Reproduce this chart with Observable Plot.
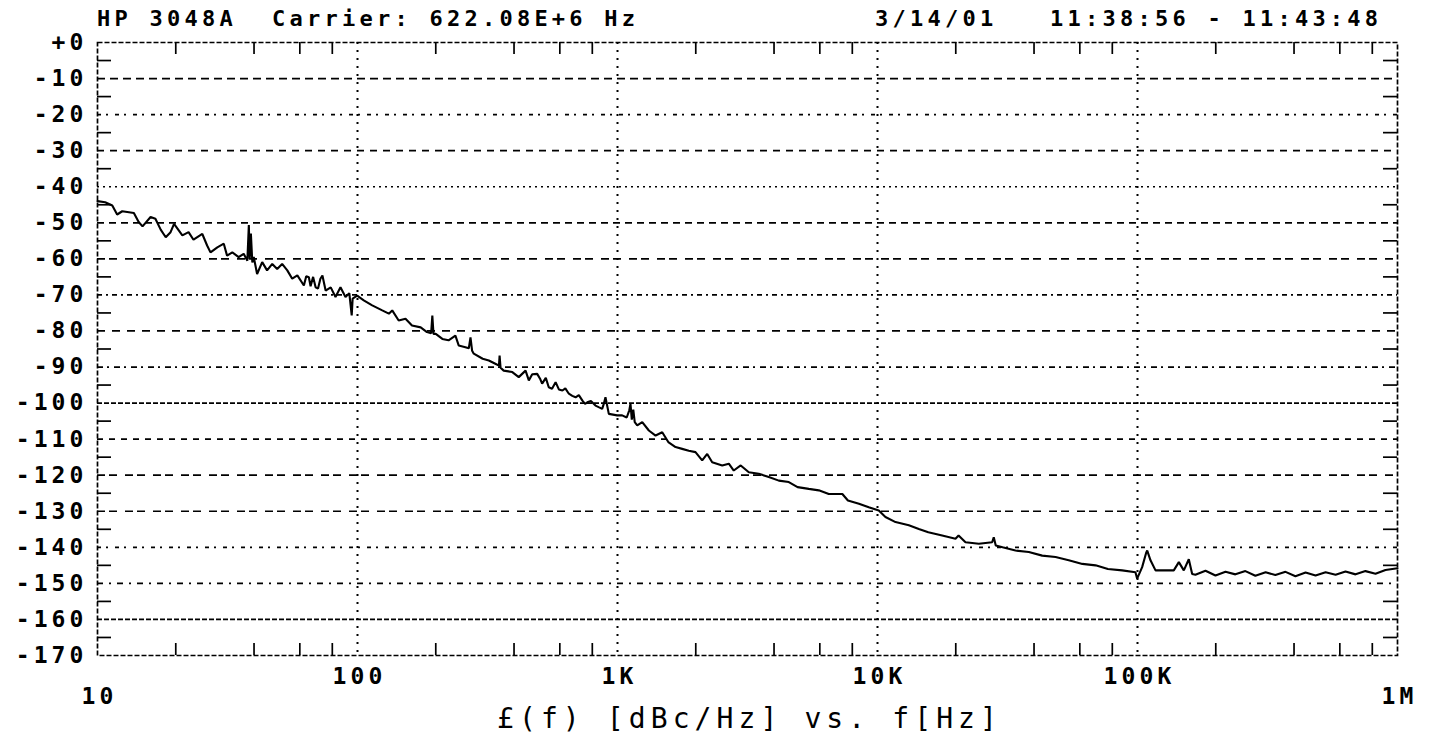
<!DOCTYPE html>
<html><head><meta charset="utf-8">
<script src="https://cdn.jsdelivr.net/npm/d3@7"></script>
<script src="https://cdn.jsdelivr.net/npm/@observablehq/plot@0.6"></script>
<style>
body{margin:0;background:#fff;}
#wrap{position:relative;width:1432px;height:736px;overflow:hidden;background:#fff;}
#wrap svg{position:absolute;left:0;top:0;}
.hdr{position:absolute;top:9px;font-family:"DejaVu Sans Mono",monospace;font-weight:bold;font-size:22px;letter-spacing:4.25px;line-height:20px;white-space:pre;color:#000;}
#foot{position:absolute;left:497px;top:705px;font-family:"DejaVu Sans Mono",monospace;font-size:28px;letter-spacing:5.1px;line-height:28px;white-space:pre;color:#000;}
</style></head>
<body><div id="wrap"><div id="chart"></div><div id="hl" class="hdr" style="left:97px"></div><div id="hr" class="hdr" style="left:875px"></div><div id="foot"></div></div>
<script>
// ---- data ----
const headerLeft = "HP 3048A  Carrier: 622.08E+6 Hz";
const headerRight = "3/14/01   11:38:56 - 11:43:48";
const footerText = "£(f) [dBc/Hz] vs. f[Hz]";

const freqHz = [
  10, 10.7, 11.4, 11.9, 12.45, 13.8, 14.4, 14.9, 16.0, 16.7, 17.5, 18.3, 19.1, 19.7,
  21.2, 22.4, 23.4, 25.3, 26.4, 27.2, 28.9, 30.6, 31.5, 33.0, 34.9, 36.5, 37.7,
  38.2, 38.5, 38.9, 39.4, 39.9, 41.1, 43.0, 44.9, 47.0, 49.1, 51.3, 53.7, 56.1, 58.7,
  62.2, 63.5, 65.0, 66.0, 67.5, 69.0, 70.5, 72.0, 73.3, 75.4, 78.9, 82.3, 86.0, 89.9,
  93.0, 95.0, 95.8, 99.7,
  105.7, 113.9, 124.5, 132, 136, 144, 153, 162, 175, 185, 192, 194, 196, 200, 212, 224,
  238, 245, 260, 268, 272, 276, 280, 303, 320, 339, 350, 352, 355, 365, 394, 417, 443,
  456, 470, 491, 505, 513, 530, 544, 560, 578, 595, 614, 630, 650, 670, 690, 710, 733,
  750, 770, 790, 823, 850, 873, 885, 899, 926, 997,
  1042, 1085, 1110, 1122, 1135, 1150, 1165, 1191, 1245, 1320, 1401, 1486, 1568, 1672,
  1773, 1880, 1995, 2117, 2213, 2313, 2528, 2680, 2800, 2978, 3199, 3494, 3819, 4173,
  4559, 4927, 5443, 5946, 6497, 7325, 7695, 8485, 9258, 10115,
  10730, 11730, 13200, 14420, 15680, 17730, 19950, 20500, 21800, 24540, 27600, 28000,
  28500, 30280, 33940, 38190, 43000, 48400, 54400, 61350, 69000, 76950, 87300, 98200,
  99700, 104200, 108000, 109000, 112200, 117300, 137900, 144200, 150700, 157500, 162300,
  167000, 182600, 199500, 218000, 238000, 260000, 284000, 311000, 339000, 371000, 405000,
  443000, 484000, 529000, 578000, 631000, 690000, 753000, 823000, 899000, 1000000
];
const noiseDb = [
  -44.0, -44.3, -45.2, -47.7, -46.8, -47.3, -49.8, -51.0, -48.4, -48.9, -51.9, -54.0, -52.6, -50.3,
  -53.5, -52.6, -54.7, -53.1, -56.3, -58.2, -56.8, -55.8, -59.1, -58.2, -59.5, -58.6, -60.5,
  -50.6, -60.0, -53.0, -61.0, -59.5, -64.2, -60.9, -63.2, -61.4, -62.8, -61.4, -63.2, -65.5, -64.6,
  -67.4, -64.8, -65.1, -67.6, -65.0, -67.9, -68.2, -65.5, -64.6, -68.8, -67.9, -70.6, -67.9, -70.6,
  -69.5, -75.7, -71.0, -70.2,
  -71.5, -72.9, -74.3, -75.2, -74.3, -77.1, -76.6, -78.5, -79.0, -80.3, -80.6, -75.7, -80.8, -80.8, -82.2, -82.6,
  -81.3, -84.0, -84.5, -84.8, -81.8, -85.5, -86.3, -87.7, -88.2, -89.1, -89.6, -86.8, -90.2, -91.0, -91.4, -92.8, -91.0,
  -93.7, -92.0, -91.9, -93.4, -94.6, -93.0, -95.6, -96.0, -94.2, -96.2, -96.5, -95.9, -97.4, -98.0, -98.4, -97.8, -99.3,
  -100.2, -99.7, -99.4, -100.7, -101.2, -101.6, -100.3, -98.4, -103.0, -103.4,
  -103.4, -104.0, -102.0, -100.2, -104.6, -101.8, -105.3, -106.2, -105.3, -107.6, -109.0, -108.1, -110.8, -112.2,
  -112.7, -113.2, -113.6, -115.9, -114.1, -116.4, -117.3, -116.8, -118.7, -117.3, -119.2, -119.6, -120.5, -121.5,
  -121.9, -123.3, -123.8, -124.2, -125.2, -125.2, -127.0, -127.9, -128.9, -129.8,
  -131.6, -133.0, -133.9, -134.9, -135.8, -136.7, -137.6, -136.7, -138.6, -139.0, -138.6, -137.2,
  -139.5, -140.0, -140.9, -141.3, -142.3, -142.7, -143.6, -144.6, -145.0, -146.0, -146.4, -146.9,
  -148.7, -145.5, -141.5, -140.9, -143.6, -146.4, -146.4, -144.1, -146.4, -143.3, -147.4,
  -147.6, -146.5, -147.8, -146.8, -147.5, -146.6, -147.9, -146.9, -147.7, -146.8, -148.0,
  -147.0, -147.8, -146.9, -147.6, -146.7, -147.5, -146.6, -147.3, -146.3, -145.8
];

const yTicks = [0, -10, -20, -30, -40, -50, -60, -70, -80, -90, -100, -110, -120, -130, -140, -150, -160, -170];
const yGrid = [-10, -20, -30, -40, -50, -60, -70, -80, -90, -100, -110, -120, -130, -140, -150, -160];
const yHalf = [-5, -15, -25, -35, -45, -55, -65, -75, -85, -95, -105, -115, -125, -135, -145, -155, -165];
const xGrid = [100, 1000, 10000, 100000];
const xMinor = [20, 40, 60, 80, 200, 400, 600, 800, 2000, 4000, 6000, 8000, 20000, 40000, 60000, 80000, 200000, 400000, 600000, 800000];
const xTickValues = [10, 100, 1000, 10000, 100000, 1000000];
const xTickLabels = ["10", "100", "1K", "10K", "100K", "1M"];

// ---- styles ----
const gridDash = ["8,5", "4,5,2,7", "7,6", "2,4", "7,5", "8,4,8,8", "5,4,2,4", "8,7", "6,4,2,5", "5,2", "6,6", "8,4,8,8", "8,4,8,8", "4,5,2,7", "6,6,2,6", "5,2"];

const W = 1432, H = 736, mL = 97, mR = 35, mT = 42, mB = 81;
const frameW = W - mL - mR, frameH = H - mT - mB;
const rows = freqHz.map((f, i) => ({f, v: noiseDb[i]}));
const labelOf = new Map(xTickValues.map((v, i) => [v, xTickLabels[i]]));

const gridMarks = yGrid.map((lv, i) => Plot.ruleY([lv], {stroke: "#000", strokeWidth: 1.7, strokeDasharray: gridDash[i % gridDash.length]}));

const chart = Plot.plot({
  width: W, height: H,
  marginLeft: mL, marginRight: mR, marginTop: mT, marginBottom: mB,
  x: {type: "log", domain: [10, 1e6], axis: null},
  y: {domain: [-170, 0], axis: null},
  style: {fontFamily: '"DejaVu Sans Mono", monospace', fontWeight: "bold", fontSize: "23px", letterSpacing: "4.1px", color: "#000", background: "#fff", overflow: "visible"},
  marks: [
    ...gridMarks,
    Plot.ruleX(xGrid, {stroke: "#000", strokeWidth: 2, strokeDasharray: "2,6"}),
    Plot.tickY(yHalf, {insetRight: frameW - 14, strokeWidth: 1.7}),
    Plot.tickY(yHalf, {insetLeft: frameW - 14, strokeWidth: 1.7}),
    Plot.tickX(xMinor, {insetBottom: frameH - 12, strokeWidth: 1.7}),
    Plot.tickX(xMinor, {insetTop: frameH - 12, strokeWidth: 1.7}),
    Plot.frame({stroke: "#000", strokeWidth: 1.7, strokeDasharray: "5,2"}),
    Plot.line(rows, {x: "f", y: "v", stroke: "#000", strokeWidth: 2.1, strokeLinejoin: "miter"}),
    Plot.axisY({anchor: "left", ticks: yTicks, tickSize: 0, tickPadding: 10, label: null, tickFormat: d => d === 0 ? "+0" : String(d)}),
    Plot.axisX({anchor: "bottom", ticks: xTickValues.slice(1, 5), tickSize: 0, tickPadding: 12, dx: 2, label: null, tickFormat: d => labelOf.get(d)}),
    Plot.axisX({anchor: "bottom", ticks: [xTickValues[0], xTickValues[5]], tickSize: 0, tickPadding: 32, dx: 2, label: null, tickFormat: d => labelOf.get(d)})
  ]
});
document.getElementById("chart").appendChild(chart);
document.getElementById("hl").textContent = headerLeft;
document.getElementById("hr").textContent = headerRight;
document.getElementById("foot").textContent = footerText;
</script>
</body></html>
